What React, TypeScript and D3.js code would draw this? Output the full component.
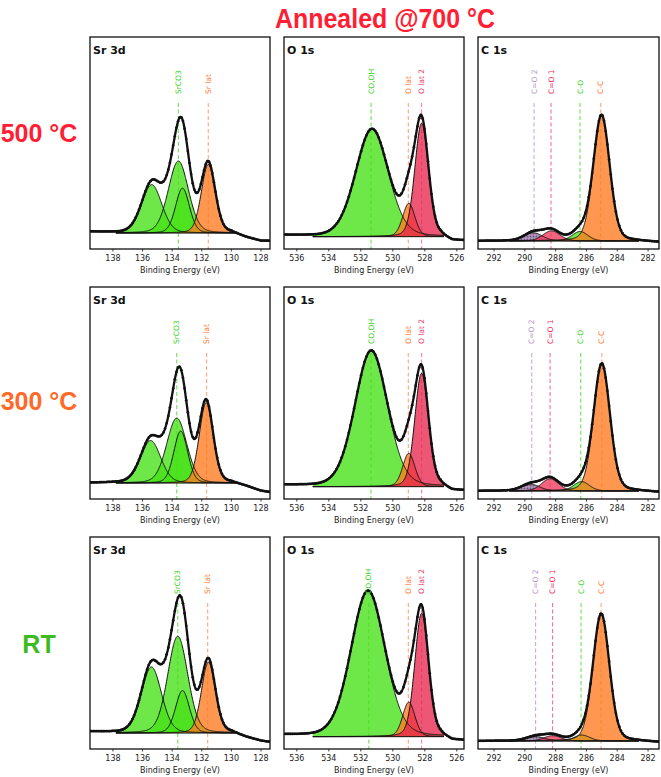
import React from "react";
import * as d3 from "d3";

// ---------- data ----------
const TITLE = "Annealed @700 °C";
const ROW_LABELS = ["500 °C", "300 °C", "RT"];
const ROW_COLORS = ["#ff1e33", "#ff6a2a", "#3dba1f"];

const PANEL_TITLES = ["Sr 3d", "O 1s", "C 1s"];
const X_LABEL = "Binding Energy (eV)";

const SR_TICKS = [138, 136, 134, 132, 130, 128];
const O_TICKS = [536, 534, 532, 530, 528, 526];
const C_TICKS = [292, 290, 288, 286, 284, 282];

const SR_DOMAIN = [139.55, 127.39];
const O_DOMAIN = [536.8, 525.55];
const C_DOMAIN = [293.04, 281.29];

// fitted components: center (eV), height (rel.), fwhm (eV), colour key
const SR_500 = [
  { c: 135.38, h: 0.41, w: 1.6, k: "green" },
  { c: 133.58, h: 0.61, w: 1.6, k: "green" },
  { c: 133.3, h: 0.38, w: 1.1, k: "green" },
  { c: 131.56, h: 0.58, w: 1.1, k: "orange" },
];
const SR_300 = [
  { c: 135.45, h: 0.36, w: 1.6, k: "green" },
  { c: 133.69, h: 0.55, w: 1.6, k: "green" },
  { c: 133.42, h: 0.44, w: 1.1, k: "green" },
  { c: 131.7, h: 0.68, w: 1.1, k: "orange" },
];
const SR_RT = [
  { c: 135.4, h: 0.56, w: 1.6, k: "green" },
  { c: 133.62, h: 0.82, w: 1.6, k: "green" },
  { c: 133.3, h: 0.36, w: 1.1, k: "green" },
  { c: 131.55, h: 0.6, w: 1.1, k: "orange" },
];

const O_500 = [
  { c: 531.3, h: 0.87, w: 2.4, k: "green" },
  { c: 529.0, h: 0.27, w: 0.9, k: "orange" },
  { c: 528.2, h: 0.92, w: 1.0, k: "pink" },
];
const O_300 = [
  { c: 531.35, h: 1.1, w: 2.4, k: "green" },
  { c: 529.0, h: 0.27, w: 0.9, k: "orange" },
  { c: 528.2, h: 0.92, w: 1.0, k: "pink" },
];
const O_RT = [
  { c: 531.55, h: 1.18, w: 2.5, k: "green" },
  { c: 529.0, h: 0.28, w: 0.9, k: "orange" },
  { c: 528.2, h: 1.0, w: 1.0, k: "pink" },
];

const C_500 = [
  { c: 289.45, h: 0.065, w: 1.4, k: "purple" },
  { c: 288.27, h: 0.08, w: 1.3, k: "red" },
  { c: 286.42, h: 0.075, w: 1.2, k: "green" },
  { c: 285.02, h: 0.99, w: 1.25, k: "orange" },
];
const C_300 = [
  { c: 289.62, h: 0.053, w: 1.4, k: "purple" },
  { c: 288.36, h: 0.097, w: 1.3, k: "red" },
  { c: 286.32, h: 0.074, w: 1.2, k: "green" },
  { c: 285.0, h: 1.0, w: 1.25, k: "orange" },
];
const C_RT = [
  { c: 289.3, h: 0.035, w: 1.4, k: "purple" },
  { c: 288.2, h: 0.042, w: 1.3, k: "red" },
  { c: 286.3, h: 0.047, w: 1.2, k: "green" },
  { c: 285.04, h: 1.0, w: 1.25, k: "orange" },
];

// reference lines: position (eV), label, colour key
const SR_LINES = [
  [{ x: 133.58, t: "SrCO3", k: "green" }, { x: 131.56, t: "Sr lat", k: "orange" }],
  [{ x: 133.69, t: "SrCO3", k: "green" }, { x: 131.67, t: "Sr lat", k: "orange" }],
  [{ x: 133.62, t: "SrCO3", k: "green" }, { x: 131.6, t: "Sr lat", k: "orange" }],
];
const O_LINES = [
  [{ x: 531.36, t: "CO,OH", k: "green" }, { x: 529.03, t: "O lat", k: "orange" }, { x: 528.2, t: "O lat 2", k: "pink" }],
  [{ x: 531.36, t: "CO,OH", k: "green" }, { x: 529.03, t: "O lat", k: "orange" }, { x: 528.2, t: "O lat 2", k: "pink" }],
  [{ x: 531.5, t: "CO,OH", k: "green" }, { x: 529.03, t: "O lat", k: "orange" }, { x: 528.2, t: "O lat 2", k: "pink" }],
];
const C_LINES = [
  [{ x: 289.4, t: "C=O 2", k: "purple" }, { x: 288.3, t: "C=O 1", k: "red" }, { x: 286.42, t: "C-O", k: "green" }, { x: 285.07, t: "C-C", k: "orange" }],
  [{ x: 289.55, t: "C=O 2", k: "purple" }, { x: 288.36, t: "C=O 1", k: "red" }, { x: 286.37, t: "C-O", k: "green" }, { x: 285.0, t: "C-C", k: "orange" }],
  [{ x: 289.3, t: "C=O 2", k: "purple" }, { x: 288.2, t: "C=O 1", k: "red" }, { x: 286.35, t: "C-O", k: "green" }, { x: 285.05, t: "C-C", k: "orange" }],
];

// background (raw data outside fit region): [eV, rel. intensity]
const SR_BG = [
  [[139.55, 0.01], [137.5, 0.0], [130.0, 0.0], [129.0, -0.04], [128.0, -0.07], [127.39, -0.07]],
  [[139.55, 0.0], [137.5, 0.0], [130.0, 0.0], [129.0, -0.03], [128.0, -0.07], [127.39, -0.08]],
  [[139.55, 0.01], [137.5, 0.0], [130.0, 0.0], [129.0, -0.04], [128.0, -0.07], [127.39, -0.08]],
];
const O_BG = [
  [[536.8, 0.01], [534.5, 0.0], [527.0, 0.0], [526.3, -0.04], [525.55, -0.04]],
  [[536.8, 0.01], [534.5, 0.0], [527.0, 0.0], [526.3, -0.04], [525.55, -0.04]],
  [[536.8, 0.01], [534.5, 0.0], [527.0, 0.0], [526.3, -0.04], [525.55, -0.04]],
];
const C_BG = [
  [[293.04, 0.0], [291.0, 0.0], [283.0, 0.0], [281.29, -0.01]],
  [[293.04, 0.0], [291.0, 0.0], [283.0, 0.0], [281.29, -0.01]],
  [[293.04, 0.0], [291.0, 0.0], [283.0, 0.0], [281.29, -0.01]],
];

const SR_FIT = [137.8, 129.6];
const O_FIT = [535.0, 526.8];
const C_FIT = [291.0, 282.6];

// ---------- styling ----------
const FILL: Record<string, string> = {
  green: "#45e015",
  orange: "#ff7a1f",
  pink: "#e8274d",
  red: "#f2385a",
  purple: "url(#dots)",
};
const DASH: Record<string, string> = {
  green: "#6fe05a",
  orange: "#ffa57c",
  pink: "#ff80a8",
  red: "#ff6f98",
  purple: "#c8a8e0",
};
const TXT: Record<string, string> = {
  green: "#3dd42a",
  orange: "#ff7733",
  pink: "#ee3a6a",
  red: "#ee2a55",
  purple: "#b896cc",
};

const COL_X = [90, 284, 478];
const COL_W = [180, 180, 181];
const ROW_Y = [37, 287, 537];
const PH = 212;
const AXIS_FONT = "DejaVu Sans, sans-serif";

function pv(x: number, c: number, h: number, w: number) {
  const m = 0.18;
  const d = (x - c) / w;
  return h * ((1 - m) * Math.exp(-4 * Math.LN2 * d * d) + m / (1 + 4 * d * d));
}

type Comp = { c: number; h: number; w: number; k: string };
type Line = { x: number; t: string; k: string };

function Panel(props: {
  id: string;
  x0: number;
  y0: number;
  w: number;
  domain: number[];
  ticks: number[];
  title: string;
  comps: Comp[];
  lines: Line[];
  bg: number[][];
  fit: number[];
  yDom: number[];
}) {
  const { id, x0, y0, w, domain, ticks, title, comps, lines, bg, fit, yDom } = props;
  const xs = d3.scaleLinear().domain(domain).range([x0, x0 + w]);
  const ys = d3.scaleLinear().domain(yDom).range([y0 + PH, y0]);
  const bgS = d3.scaleLinear().domain(bg.map((p) => p[0])).range(bg.map((p) => p[1]));

  const lo = Math.min(domain[0], domain[1]);
  const hi = Math.max(domain[0], domain[1]);
  const grid = d3.range(lo, hi + 0.001, 0.02);
  const fitGrid = d3.range(Math.min(fit[0], fit[1]), Math.max(fit[0], fit[1]) + 0.001, 0.02);

  const area = d3
    .area<number>()
    .x((v) => xs(v))
    .y0(ys(0));
  const line = d3.line<number[]>().x((p) => xs(p[0])).y((p) => ys(p[1]));

  const env = (v: number) => bgS(v) + comps.reduce((s, c) => s + pv(v, c.c, c.h, c.w), 0);
  const envPts = grid.map((v) => [v, env(v)]);
  const dotPts = d3.range(lo + 0.05, hi, 0.11).map((v) => [v, env(v)]);

  return (
    <g>
      <defs>
        <clipPath id={"clip" + id}>
          <rect x={x0} y={y0} width={w} height={PH} />
        </clipPath>
      </defs>
      <g clipPath={`url(#clip${id})`}>
        {lines.map((l, i) => (
          <line
            key={"dl" + i}
            x1={xs(l.x)}
            x2={xs(l.x)}
            y1={y0 + 66}
            y2={y0 + PH}
            stroke={DASH[l.k]}
            strokeWidth={1.1}
            strokeDasharray="4,2.5"
          />
        ))}
        {comps.map((c, i) => (
          <path
            key={"f" + i}
            d={area.y1((v) => ys(pv(v, c.c, c.h, c.w)))(fitGrid) || ""}
            fill={FILL[c.k]}
            fillOpacity={c.k === "purple" ? 1 : 0.78}
          />
        ))}
        {comps.map((c, i) => (
          <path
            key={"o" + i}
            d={line(fitGrid.map((v) => [v, pv(v, c.c, c.h, c.w)])) || ""}
            fill="none"
            stroke="#111"
            strokeWidth={1}
          />
        ))}
        <line x1={xs(fit[0])} x2={xs(fit[1])} y1={ys(0)} y2={ys(0)} stroke="#111" strokeWidth={1} />
        <path d={line(envPts) || ""} fill="none" stroke="#111" strokeWidth={2.3} />
        {dotPts.map((p, i) => (
          <circle key={"d" + i} cx={xs(p[0])} cy={ys(p[1])} r={1.35} fill="#111" />
        ))}
      </g>
      {lines.map((l, i) => (
        <text
          key={"lt" + i}
          transform={`translate(${xs(l.x) + 2.6},${y0 + 57}) rotate(-90)`}
          fontFamily={AXIS_FONT}
          fontSize={7.5}
          fill={TXT[l.k]}
        >
          {l.t}
        </text>
      ))}
      <rect x={x0} y={y0} width={w} height={PH} fill="none" stroke="#111" strokeWidth={1.3} />
      <text x={x0 + 3} y={y0 + 17} fontFamily={AXIS_FONT} fontWeight="bold" fontSize={11} fill="#111">
        {title}
      </text>
      {ticks.map((t) => (
        <g key={"t" + t}>
          <line x1={xs(t)} x2={xs(t)} y1={y0 + PH} y2={y0 + PH + 2.5} stroke="#111" strokeWidth={0.8} />
          <text
            x={xs(t)}
            y={y0 + PH + 12}
            textAnchor="middle"
            fontFamily={AXIS_FONT}
            fontSize={8}
            fill="#222"
          >
            {t}
          </text>
        </g>
      ))}
      <text
        x={x0 + w / 2}
        y={y0 + PH + 24}
        textAnchor="middle"
        fontFamily={AXIS_FONT}
        fontSize={8}
        fill="#222"
      >
        {X_LABEL}
      </text>
    </g>
  );
}

export default function App() {
  const srComps = [SR_500, SR_300, SR_RT];
  const oComps = [O_500, O_300, O_RT];
  const cComps = [C_500, C_300, C_RT];
  const yDomSO = [-0.135, 1.66];
  const yDomO = [-0.1, 1.62];
  const yDomC = [-0.063, 1.606];
  return (
    <svg
      width={661}
      height={777}
      style={{ position: "absolute", left: 0, top: 0, background: "#fff" }}
    >
      <defs>
        <pattern id="dots" width={3} height={3} patternUnits="userSpaceOnUse">
          <rect width={3} height={3} fill="#9c7fa6" />
          <circle cx={1} cy={1} r={0.6} fill="#e8d8ee" />
          <circle cx={2.5} cy={2.5} r={0.5} fill="#5a4060" />
        </pattern>
      </defs>
      <rect width={661} height={777} fill="#fff" />
      <text
        x={385}
        y={28}
        textAnchor="middle"
        fontFamily="Liberation Sans, Arial, sans-serif"
        fontWeight="bold"
        fontSize={28}
        textLength={220}
        lengthAdjust="spacingAndGlyphs"
        fill="#ff1e33"
      >
        {TITLE}
      </text>
      {ROW_LABELS.map((r, i) => (
        <text
          key={r}
          x={39}
          y={[142, 410, 653][i]}
          textAnchor="middle"
          fontFamily="Liberation Sans, Arial, sans-serif"
          fontWeight="bold"
          fontSize={25}
          fill={ROW_COLORS[i]}
        >
          {r}
        </text>
      ))}
      {ROW_Y.map((y0, r) => (
        <g key={"row" + r}>
          <Panel
            id={`s${r}`}
            x0={COL_X[0]}
            y0={y0}
            w={COL_W[0]}
            domain={SR_DOMAIN}
            ticks={SR_TICKS}
            title={PANEL_TITLES[0]}
            comps={srComps[r]}
            lines={SR_LINES[r]}
            bg={SR_BG[r]}
            fit={SR_FIT}
            yDom={yDomSO}
          />
          <Panel
            id={`o${r}`}
            x0={COL_X[1]}
            y0={y0}
            w={COL_W[1]}
            domain={O_DOMAIN}
            ticks={O_TICKS}
            title={PANEL_TITLES[1]}
            comps={oComps[r]}
            lines={O_LINES[r]}
            bg={O_BG[r]}
            fit={O_FIT}
            yDom={yDomO}
          />
          <Panel
            id={`c${r}`}
            x0={COL_X[2]}
            y0={y0}
            w={COL_W[2]}
            domain={C_DOMAIN}
            ticks={C_TICKS}
            title={PANEL_TITLES[2]}
            comps={cComps[r]}
            lines={C_LINES[r]}
            bg={C_BG[r]}
            fit={C_FIT}
            yDom={yDomC}
          />
        </g>
      ))}
    </svg>
  );
}
